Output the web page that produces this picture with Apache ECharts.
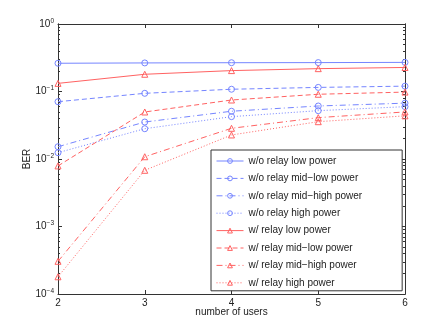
<!DOCTYPE html>
<html>
<head>
<meta charset="utf-8">
<script src="https://cdn.jsdelivr.net/npm/echarts@6/dist/echarts.min.js"></script>
<style>
html, body { margin: 0; padding: 0; background: #fff; }
#chart { width: 447px; height: 331px; }
</style>
</head>
<body>
<div id="chart"></div>
<script>
// number of users on the x axis
const users = [2, 3, 4, 5, 6];

// BER without relay
const woLow = [0.262, 0.265, 0.267, 0.268, 0.27];
const woMidLow = [0.0706, 0.094, 0.108, 0.115, 0.12];
const woMidHigh = [0.0152, 0.0353, 0.051, 0.061, 0.0672];
const woHigh = [0.0124, 0.0281, 0.0424, 0.052, 0.0596];

// BER with relay
const wLow = [0.132, 0.18, 0.204, 0.218, 0.227];
const wMidLow = [0.0079, 0.0497, 0.0748, 0.091, 0.098];
const wMidHigh = [0.000305, 0.0108, 0.0285, 0.041, 0.0498];
const wHigh = [0.00018, 0.0068, 0.0227, 0.0357, 0.0436];

const names = [
    'w/o relay low power', 'w/o relay mid\u2212low power', 'w/o relay mid\u2212high power', 'w/o relay high power',
    'w/ relay low power', 'w/ relay mid\u2212low power', 'w/ relay mid\u2212high power', 'w/ relay high power'
];
const decades = [1e-4, 1e-3, 1e-2, 1e-1, 1];
const minorTicks = [];
for (let e = -4; e < 0; e++) {
    for (let k = 2; k <= 9; k++) minorTicks.push(k * Math.pow(10, e));
}

const blue = '#7585ff';
const red = '#ff6262';
const dashes = ['solid', [5, 3], [6, 3, 1, 3], [1, 2]];
const FONT = 'Liberation Sans';

function mkSeries(name, vals, color, dashIdx, symbol) {
    return {
        name: name,
        type: 'line',
        data: users.map((u, i) => [u, vals[i]]),
        symbol: symbol,
        symbolSize: 6,
        showSymbol: true,
        lineStyle: { color: color, width: 1, type: dashes[dashIdx] },
        itemStyle: { color: 'transparent', borderColor: color, borderWidth: 1 },
        emphasis: { disabled: true },
        animation: false,
        z: 3
    };
}

const series = [
    mkSeries(names[0], woLow, blue, 0, 'circle'),
    mkSeries(names[1], woMidLow, blue, 1, 'circle'),
    mkSeries(names[2], woMidHigh, blue, 2, 'circle'),
    mkSeries(names[3], woHigh, blue, 3, 'circle'),
    mkSeries(names[4], wLow, red, 0, 'triangle'),
    mkSeries(names[5], wMidLow, red, 1, 'triangle'),
    mkSeries(names[6], wMidHigh, red, 2, 'triangle'),
    mkSeries(names[7], wHigh, red, 3, 'triangle')
];

const axisColor = '#333';

function logAxis(opts) {
    return Object.assign({
        type: 'log',
        logBase: 10,
        min: 1e-4,
        max: 1,
        splitLine: { show: false },
        axisLine: { show: true, lineStyle: { color: axisColor, width: 1 } }
    }, opts);
}

const chart = echarts.init(document.getElementById('chart'), null, { renderer: 'canvas' });
chart.setOption({
    backgroundColor: '#fff',
    textStyle: { fontFamily: FONT },
    grid: { left: 58, right: 42, top: 24, bottom: 37, containLabel: false },
    legend: {
        orient: 'vertical',
        left: 211,
        top: 150,
        data: names,
        itemWidth: 27,
        itemHeight: 6,
        itemGap: 7.4,
        padding: [6, 40, 3, 5],
        backgroundColor: '#fff',
        borderColor: '#333',
        borderWidth: 1,
        borderRadius: 0,
        selectedMode: false,
        lineStyle: { width: 1 },
        itemStyle: { borderWidth: 1 },
        textStyle: { fontFamily: FONT, fontSize: 10, color: '#222', padding: [0, 0, 0, 0] }
    },
    xAxis: [
        {
            type: 'value', min: 2, max: 6, interval: 1,
            name: 'number of users', nameLocation: 'middle', nameGap: 13,
            nameMoveOverlap: false,
            nameTextStyle: { fontFamily: FONT, fontSize: 10, color: '#222', verticalAlign: 'top' },
            axisLine: { show: true, lineStyle: { color: axisColor } },
            axisTick: { show: true, inside: true, length: 4, lineStyle: { color: axisColor } },
            axisLabel: { fontFamily: FONT, fontSize: 10, color: '#222', margin: 4 },
            splitLine: { show: false }
        },
        {
            type: 'value', min: 2, max: 6, interval: 1, position: 'top',
            axisLine: { show: true, lineStyle: { color: axisColor } },
            axisTick: { show: true, inside: true, length: 4, lineStyle: { color: axisColor } },
            axisLabel: { show: false },
            splitLine: { show: false }
        }
    ],
    yAxis: [
        logAxis({
            position: 'left',
            name: 'BER', nameLocation: 'middle', nameGap: 26,
            nameMoveOverlap: false,
            nameTextStyle: { fontFamily: FONT, fontSize: 10, color: '#222' },
            axisTick: { show: true, inside: true, length: 4, customValues: decades, lineStyle: { color: axisColor } },
            axisLabel: {
                customValues: decades,
                margin: 4,
                formatter: function (v) {
                    const e = Math.round(Math.log10(v));
                    return '{b|10}{s|' + (e < 0 ? '\u2212' + (-e) : e) + '}';
                },
                rich: {
                    b: { fontFamily: FONT, fontSize: 10, color: '#222' },
                    s: { fontFamily: FONT, fontSize: 6.5, color: '#222', verticalAlign: 'top', padding: [0, 0, 6, 0] }
                }
            }
        }),
        logAxis({
            position: 'left',
            axisTick: { show: true, inside: true, length: 2, customValues: minorTicks, lineStyle: { color: axisColor } },
            axisLabel: { show: false }
        }),
        logAxis({
            position: 'right',
            axisTick: { show: true, inside: true, length: 4, customValues: decades, lineStyle: { color: axisColor } },
            axisLabel: { show: false }
        }),
        logAxis({
            position: 'right',
            axisTick: { show: true, inside: true, length: 2, customValues: minorTicks, lineStyle: { color: axisColor } },
            axisLabel: { show: false }
        })
    ],
    series: series
});
</script>
</body>
</html>
